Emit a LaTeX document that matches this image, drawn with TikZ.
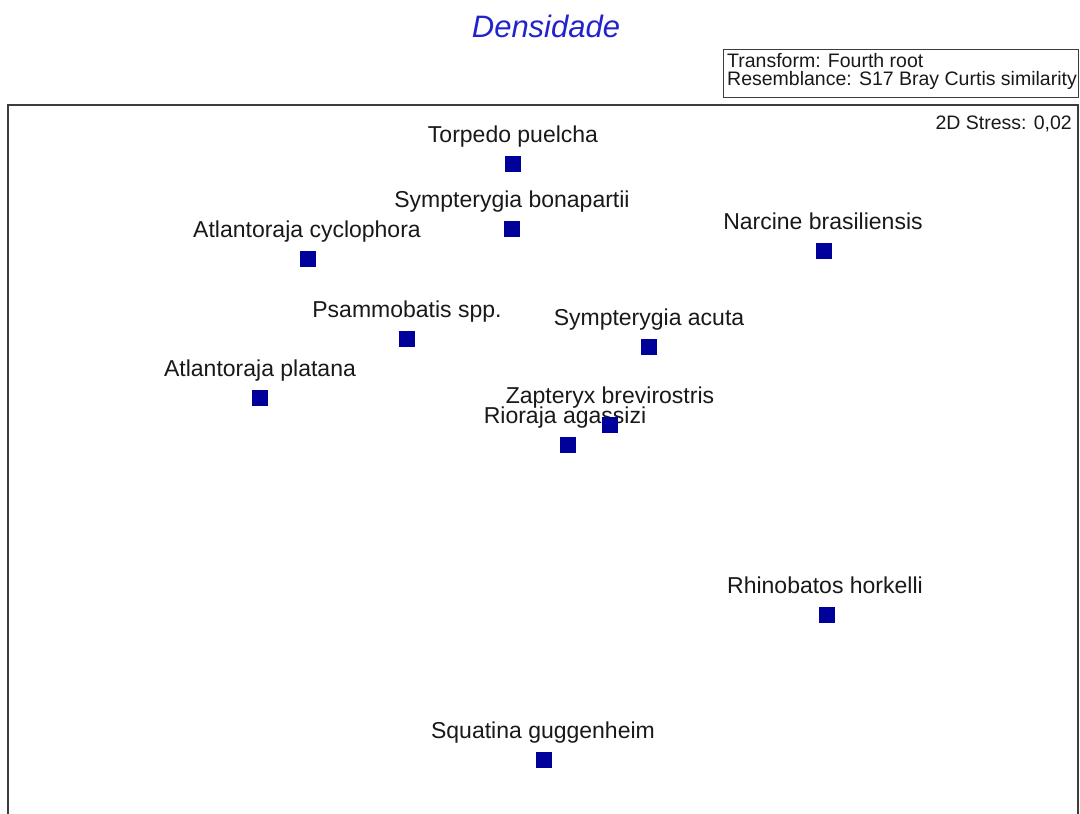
\documentclass[tikz,border=0pt]{standalone}
\usepackage{fontspec}
\setmainfont{Liberation Sans}
\definecolor{markblue}{RGB}{0,0,155}
\definecolor{titleblue}{RGB}{35,35,205}
\definecolor{labgray}{RGB}{25,25,25}
\definecolor{framegray}{RGB}{60,60,60}
\begin{document}
\begin{tikzpicture}[x=1pt,y=-1pt,
  lab/.style={font=\fontsize{23}{27}\selectfont, text=labgray, anchor=base, inner sep=0pt},
  sq/.style={rectangle, fill=markblue, draw=none, minimum size=16pt, inner sep=0pt},
  smalltxt/.style={font=\fontsize{19.5}{22}\selectfont, text=labgray, inner sep=0pt}]
\useasboundingbox[fill=white] (0,0) rectangle (1080,814);
% title
\node[font=\fontsize{31}{36}\selectfont\itshape, text=titleblue, anchor=base, inner sep=0pt] (title) at (546,37) {Densidade};
% legend box
\draw[framegray, line width=1pt] (723,49) rectangle (1078,97);
\node[smalltxt, anchor=base west] (leg1) at (727,67) {Transform: Fourth root};
\node[smalltxt, anchor=base west] (leg2) at (727,85) {Resemblance: S17 Bray Curtis similarity};
% plot frame (bottom edge outside the image)
\draw[framegray, line width=1.6pt] (8,830) -- (8,105) -- (1078,105) -- (1078,830);
\node[smalltxt, anchor=base east] (stress) at (1072,129) {2D Stress: 0,02};
% labels
\node[lab] (lTP) at (513,142) {Torpedo puelcha};
\node[lab] (lSB) at (512,207) {Sympterygia bonapartii};
\node[lab] (lAC) at (307,237) {Atlantoraja cyclophora};
\node[lab] (lNB) at (823,229) {Narcine brasiliensis};
\node[lab] (lPS) at (407,317) {Psammobatis spp.};
\node[lab] (lSA) at (649,325) {Sympterygia acuta};
\node[lab] (lAP) at (260,376) {Atlantoraja platana};
\node[lab] (lZB) at (610,403) {Zapteryx brevirostris};
\node[lab] (lRA) at (565,423) {Rioraja agassizi};
\node[lab] (lRH) at (825,593) {Rhinobatos horkelli};
\node[lab] (lSG) at (543,738) {Squatina guggenheim};
% markers
\node[sq] (TP) at (513,164) {};
\node[sq] (SB) at (512,229) {};
\node[sq] (AC) at (308,259) {};
\node[sq] (NB) at (824,251) {};
\node[sq] (PS) at (407,339) {};
\node[sq] (SA) at (649,347) {};
\node[sq] (AP) at (260,398) {};
\node[sq] (RA) at (568,445) {};
\node[sq] (ZB) at (610,425) {};
\node[sq] (RH) at (827,615) {};
\node[sq] (SG) at (544,760) {};
\end{tikzpicture}
\end{document}
